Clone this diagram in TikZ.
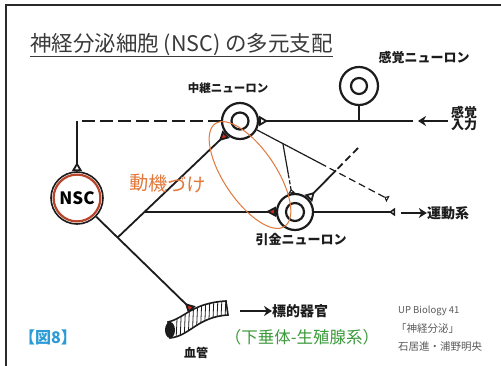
\documentclass[tikz,border=0pt]{standalone}
\usepackage{fontspec}
\setmainfont{Noto Sans CJK JP}
\usetikzlibrary{arrows.meta,calc}

\definecolor{ink}{HTML}{1C1C1C}
\definecolor{framec}{HTML}{2A2A2A}
\definecolor{titlec}{HTML}{3A3A3A}
\definecolor{synred}{HTML}{D8281A}
\definecolor{nscred}{HTML}{B8452A}
\definecolor{pen}{HTML}{E2773A}
\definecolor{glandgreen}{HTML}{3C9A3C}
\definecolor{figblue}{HTML}{2B9BD6}
\definecolor{notec}{HTML}{5A5A5A}

\newcommand{\setfs}[1]{\fontsize{#1pt}{#1pt}\selectfont}

\tikzset{
  neuron/.style={circle, draw=ink, line width=2.2pt, fill=white, minimum size=#1, inner sep=0pt},
  ring/.style={draw=ink, line width=2.2pt},
  nscnode/.style={circle, draw=ink, line width=1.6pt, fill=white, minimum size=52pt, inner sep=0pt,
    font=\setfs{17}\bfseries},
  axon/.style={draw=ink, line width=1.8pt},
  thinaxon/.style={draw=ink, line width=1.2pt},
  longdash/.style={dash pattern=on 13pt off 5pt},
  shortdash/.style={dash pattern=on 7pt off 4pt},
  synwhite/.style={-{Triangle[reversed, fill=white, length=9pt, width=10pt]}},
  synsmall/.style={-{Triangle[reversed, fill=white, length=6pt, width=8pt]}},
  syntiny/.style={-{Triangle[reversed, open, length=4pt, width=7pt]}},
  synredtip/.style={-{Triangle[reversed, fill=synred, length=10pt, width=10pt]}},
  fatarrow/.style={draw=ink, line width=2.6pt, -{Stealth[length=8pt, width=10pt]}},
  lbl/.style={inner sep=0pt, text=ink, font=\bfseries\setfs{#1}},
  pencil/.style={draw=pen, line width=1pt},
}

\begin{document}
\begin{tikzpicture}[x=1pt, y=-1pt]
\useasboundingbox[fill=white] (0,0) rectangle (501,366);

% frame edges
\draw[framec, line width=2pt] (6,366) -- (6,5) -- (501,5);

% title
\node[anchor=base west, inner sep=0pt, text=titlec, font=\setfs{21.5}] (title) at (30,52)
  {神経分泌細胞 (NSC) の多元支配};
\draw[titlec, line width=0.9pt] ([yshift=-4pt]title.base west) -- ([yshift=-4pt]title.base east);

% neurons
\node[neuron=38pt] (sens) at (359,86) {};
\draw[ring] (sens.center) circle (8pt);
\node[lbl=13] (senslbl) at (424,58) {感覚ニューロン};

\node[neuron=36pt] (inter) at (240,121) {};
\draw[ring] (inter.center) circle (8.5pt);
\node[lbl=11.5] (interlbl) at (228,88) {中継ニューロン};

\node[neuron=36pt] (motor) at (295,212) {};
\draw[ring] (motor.center) circle (9pt);
\node[lbl=13] (motorlbl) at (301,240) {引金ニューロン};

\node[nscnode] (nsc) at (77,198) {NSC};
\draw[nscred, line width=2.2pt] (nsc.center) circle (23.4pt);

% reference points on the wiring
\coordinate (inR) at (413,121);
\coordinate (corner) at (77,121);
\coordinate (vtip) at (192,310);
\coordinate (J) at ($(nsc)!0.353!(vtip)$);
\coordinate (K) at ($(J)!0.222!(inter)$);
\coordinate (dt) at (388,199);
\coordinate (V) at ($(inter)!0.29!(dt)$);
\coordinate (M1) at ($(inter)!0.54!(dt)$);
\coordinate (Vm) at ($(V)!0.45!(motor)$);
\coordinate (ut) at (358,148);
\coordinate (um) at ($(ut)!0.35!(motor)$);
\coordinate (mo) at (395,212);

% sensory input line
\draw[axon, synwhite] (inR) -- (inter);
\draw[axon] (sens) -- (sens |- inR);

% interneuron to NSC
\draw[axon, longdash] (inter) -- (corner);
\draw[axon, synwhite] (corner) -- (nsc);

% NSC outputs
\draw[axon, synredtip] (nsc) -- (vtip);
\draw[axon, synredtip] (J) -- (inter);
\draw[axon, synredtip] (K) -- (K -| motor.west);

% motor output
\draw[axon, synsmall] (motor) -- (mo);

% collaterals from the interneuron
\draw[thinaxon] (inter) -- (M1);
\draw[thinaxon, shortdash, syntiny] (M1) -- (dt);
\draw[thinaxon] (V) -- (Vm);
\draw[thinaxon, dash pattern=on 4pt off 2pt, syntiny] (Vm) -- (motor);

% line onto the motor neuron from upper right
\draw[axon, shortdash] (ut) -- (um);
\draw[axon, synwhite] (um) -- (motor);

% motivation loop (hand drawn)
\draw[pencil, rotate around={-56:(250,175)}] (250,175) ellipse [x radius=62, y radius=26];
\node[text=pen, font=\setfs{19}, rotate=-2, inner sep=0pt] (motiv) at (168,184) {動機づけ};

% labels with arrows
\node[lbl=13, align=center] (kin) at (464,119) {感覚\\[-1pt]入力};
\coordinate (kinA) at (448,121);
\draw[fatarrow] (kinA) -- (418,121);

\node[lbl=14] (motout) at (448,213) {運動系};
\draw[fatarrow] (401,213) -- (motout.west);

% blood vessel
\def\vessel{(168,322) .. controls (185,318) and (192,303) .. (226,301) -- (228,315)
  .. controls (197,317) and (190,336) .. (170,338) -- cycle}
\fill[white] \vessel;
\begin{scope}
  \clip \vessel;
  \foreach \x in {178,182,...,226} \draw[ink, line width=0.8pt] (\x,296) -- (\x-2,342);
  \fill[white] (178,318) .. controls (186,316) and (190,309) .. (196,306) -- (196,300) -- (170,300) -- cycle;
\end{scope}
\draw[ink, line width=1.6pt] \vessel;
\fill[ink] (170,330) ellipse [x radius=5, y radius=8];
\node[lbl=12] (vessellbl) at (196,353) {血管};

\node[lbl=14, anchor=west] (target) at (272,311) {標的器官};
\draw[fatarrow] (240,311) -- (target.west);

\node[inner sep=0pt, text=glandgreen, font=\setfs{16.5}] (gland) at (302,337) {（下垂体-生殖腺系）};
\node[inner sep=0pt, text=figblue, font=\bfseries\setfs{16}] (fig) at (48,337) {【図8】};

% source note
\node[anchor=west, inner sep=0pt, text=notec, font=\setfs{9.5}] (src1) at (398,311) {UP Biology 41};
\node[anchor=west, inner sep=0pt, text=notec, font=\setfs{10.5}] (src2) at (396,329) {「神経分泌」};
\node[anchor=west, inner sep=0pt, text=notec, font=\setfs{10.5}] (src3) at (398,347) {石居進・浦野明央};
\end{tikzpicture}
\end{document}
